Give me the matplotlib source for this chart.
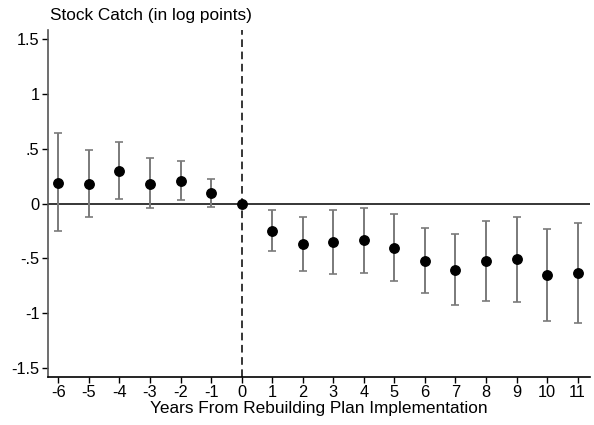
#!/usr/bin/env python3

import matplotlib
matplotlib.use("Agg")
import matplotlib.pyplot as plt

plt.rcParams["font.family"] = ["Liberation Sans", "DejaVu Sans"]

years = [-6, -5, -4, -3, -2, -1, 0, 1, 2, 3, 4, 5, 6, 7, 8, 9, 10, 11]
coef = [0.19, 0.18, 0.30, 0.18, 0.21, 0.095, 0.0,
        -0.25, -0.37, -0.35, -0.33, -0.41, -0.52, -0.61,
        -0.52, -0.51, -0.65, -0.63]
ci_hi = [0.64, 0.485, 0.565, 0.415, 0.39, 0.22, None,
         -0.06, -0.12, -0.06, -0.037, -0.10, -0.225, -0.28,
         -0.16, -0.12, -0.23, -0.18]
ci_lo = [-0.25, -0.125, 0.04, -0.04, 0.03, -0.03, None,
         -0.436, -0.62, -0.64, -0.63, -0.71, -0.82, -0.93,
         -0.885, -0.90, -1.07, -1.09]
yticks = [-1.5, -1, -0.5, 0, 0.5, 1, 1.5]
ytick_labels = ["-1.5", "-1", "-.5", "0", ".5", "1", "1.5"]

fig = plt.figure(figsize=(5.94, 4.25), dpi=100)
ax = fig.add_axes([0.0803, 0.1136, 0.9127, 0.815])

# error bars (skip the omitted base year)
ex = [x for x, h in zip(years, ci_hi) if h is not None]
ey = [c for c, h in zip(coef, ci_hi) if h is not None]
lo = [c - l for c, l in zip(coef, ci_lo) if l is not None]
hi = [h - c for c, h in zip(coef, ci_hi) if h is not None]
ax.errorbar(ex, ey, yerr=[lo, hi], fmt="none", ecolor="#7a7a7a",
            elinewidth=1.4, capsize=3.2, capthick=1.2, zorder=2)

ax.axhline(0, color="black", linewidth=1.1, zorder=1)
ax.axvline(0, color="black", linewidth=1.1, linestyle=(0, (5, 3)), zorder=1)
ax.plot(years, coef, "o", color="black", markersize=6.8, zorder=3)

ax.set_xlim(-6.35, 11.4)
ax.set_ylim(-1.58, 1.58)
ax.set_xticks(years)
ax.set_xticklabels([str(y) for y in years])
ax.set_yticks(yticks)
ax.set_yticklabels(ytick_labels)
ax.tick_params(labelsize=11.8, length=4, width=1, pad=2)

ax.spines["top"].set_visible(False)
ax.spines["right"].set_visible(False)
ax.spines["left"].set_color("#555555")
ax.spines["left"].set_linewidth(1.2)
ax.spines["bottom"].set_linewidth(1.2)

ax.set_xlabel("Years From Rebuilding Plan Implementation", fontsize=12.4, labelpad=1)
fig.text(0.0842, 0.963, "Stock Catch (in log points)", fontsize=12.4,
         ha="left", va="center")

plt.savefig("out.png", dpi=100)
plt.close()
